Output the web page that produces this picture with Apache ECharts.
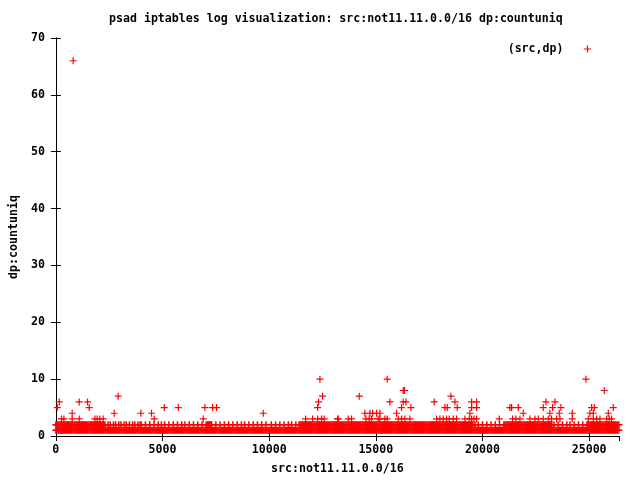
<!DOCTYPE html>
<html><head><meta charset="utf-8">
<script src="https://cdn.jsdelivr.net/npm/echarts@6/dist/echarts.min.js"></script>
<style>html,body{margin:0;padding:0;background:#fff}#c{width:640px;height:480px}</style>
</head><body><div id="c"></div>
<script>
const titleText = 'psad iptables log visualization: src:not11.11.0.0/16 dp:countuniq';
const xName = 'src:not11.11.0.0/16';
const yName = 'dp:countuniq';
const seriesName = '(src,dp)';
const xMax = 26400;
const yMax = 70;
const xTickStep = 5000;
const yTickStep = 10;
const binWidth = 50;
// Each string covers 1000 src indices, one char per 50-index bin.
// Every bin holds sources with count 1; '2' marks bins that also hold count-2 sources.
const band2Pattern = [
  '22222222222222222222', '22222222222222222222', '22222221121211212112',
  '12112121121121211212', '21112111211121112112', '11211121112111211121',
  '12111211121112111211', '12222221112111211121', '11211121112111211211',
  '12111211121112111211', '11211121112111211121', '12111211222222222222',
  '22222222222222222222', '22222222222222222222', '22222222222222222222',
  '22222222222222222222', '22222222222222222222', '22222222222222222222',
  '22222222222222222222', '22222222222212112111', '21112111211121112111',
  '22222222222222222222', '22222222222222222222', '22222212111211121112',
  '11211121112111211122', '22222222222222222222', '22222222'
];
// isolated higher counts
const outlierX = [
  810,
  266, 375, 766, 1094, 1829, 1938, 2063, 2220, 4611, 6909, 11707, 12035, 12270, 12457, 12582, 13207,
  13237, 13706, 13862, 14534, 14690, 14800, 15112, 15190, 15425, 15534, 16050, 16206, 16363, 16597,
  17848, 18004, 18160, 18316, 18441, 18629, 18785, 19176, 19379, 19489, 19598, 19723, 20786, 21411,
  21567, 21755, 22224, 22458, 22615, 22849, 23084, 23240, 23474, 23631, 24209, 24959, 25194, 25350,
  25506, 25819, 25944, 26053,
  766, 2735, 3986, 4486, 9722, 14487, 14722, 14847, 15034, 15190, 15972, 19411, 21911, 23162, 23599,
  24209, 25037, 25194, 25897,
  63, 1563, 5080, 5736, 6987, 7346, 7534, 12270, 16206, 16644, 18238, 18348, 18817, 19489, 19723,
  21286, 21364, 21677, 22849, 23287, 23677, 25116, 25241, 26132,
  157, 1094, 1485, 12317, 15659, 16285, 16410, 17738, 18707, 19489, 19723, 22974, 23396,
  2923, 12504, 14221, 18520,
  16285, 16345, 25709,
  12379, 15534, 24850,
  26400, 26400
];
const outlierY = [
  66,
  3, 3, 3, 3, 3, 3, 3, 3, 3, 3, 3, 3, 3, 3, 3, 3,
  3, 3, 3, 3, 3, 3, 3, 3, 3, 3, 3, 3, 3, 3,
  3, 3, 3, 3, 3, 3, 3, 3, 3, 3, 3, 3, 3, 3,
  3, 3, 3, 3, 3, 3, 3, 3, 3, 3, 3, 3, 3, 3,
  3, 3, 3, 3,
  4, 4, 4, 4, 4, 4, 4, 4, 4, 4, 4, 4, 4, 4, 4,
  4, 4, 4, 4,
  5, 5, 5, 5, 5, 5, 5, 5, 5, 5, 5, 5, 5, 5, 5,
  5, 5, 5, 5, 5, 5, 5, 5, 5,
  6, 6, 6, 6, 6, 6, 6, 6, 6, 6, 6, 6, 6,
  7, 7, 7, 7,
  8, 8, 8,
  10, 10, 10,
  1, 2
];

const crossBand = 'path://M2.75,0h1.5v2.75h2.75v1.5h-2.75v2.75h-1.5v-2.75h-2.75v-1.5h2.75z';
const crossThin = 'path://M2.9,0h1.2v2.9h2.9v1.2h-2.9v2.9h-1.2v-2.9h-2.9v-1.2h2.9z';

const points = [];
band2Pattern.join('').split('').forEach((c, i) => {
  const x = i * binWidth;
  points.push({ value: [x, 1], symbol: crossBand });
  if (c === '2') points.push({ value: [x, 2], symbol: crossBand });
});
outlierX.forEach((x, i) => points.push({ value: [x, outlierY[i]], symbol: crossThin }));

const font = 'DejaVu Sans Mono';
const txt = { fontFamily: font, fontWeight: 'bold', fontSize: 11.6, color: '#000' };
const axisLine = { show: true, lineStyle: { color: '#000', width: 1 } };
const tick = { show: true, inside: true, length: 5, lineStyle: { color: '#000' } };

const chart = echarts.init(document.getElementById('c'), null, { renderer: 'canvas' });
chart.setOption({
  animation: false,
  backgroundColor: '#fff',
  title: { text: titleText, left: 109, top: 13, padding: 0,
    textStyle: Object.assign({}, txt) },
  legend: { data: [{ name: seriesName, icon: crossThin }], right: 49, top: 43, padding: 0, align: 'right',
    itemWidth: 38, itemHeight: 7, itemGap: 0, textStyle: Object.assign({}, txt),
    selectedMode: false },
  grid: { left: 55, right: 21, top: 38, bottom: 40, containLabel: false },
  xAxis: [
    { type: 'value', min: 0, max: xMax, interval: xTickStep, position: 'bottom',
      name: xName, nameLocation: 'middle', nameGap: 27, nameTextStyle: Object.assign({}, txt),
      axisLine, axisTick: tick, splitLine: { show: false },
      axisLabel: Object.assign({ margin: 8, showMaxLabel: false, formatter: v => String(v) }, txt) },
    { type: 'value', min: 0, max: xMax, interval: xTickStep, position: 'top',
      axisLine, axisTick: tick, splitLine: { show: false }, axisLabel: { show: false } }
  ],
  yAxis: [
    { type: 'value', min: 0, max: yMax, interval: yTickStep, position: 'left',
      name: yName, nameLocation: 'middle', nameGap: 35, nameRotate: 90,
      nameTextStyle: Object.assign({}, txt),
      axisLine, axisTick: tick, splitLine: { show: false },
      axisLabel: Object.assign({ margin: 11, formatter: v => String(v) }, txt) },
    { type: 'value', min: 0, max: yMax, interval: yTickStep, position: 'right',
      axisLine, axisTick: tick, splitLine: { show: false }, axisLabel: { show: false } }
  ],
  series: [{
    name: seriesName, type: 'scatter', data: points, symbol: crossThin, symbolSize: 7,
    clip: false, large: false, itemStyle: { color: '#ff0000', opacity: 1 },
    emphasis: { disabled: true }
  }]
});
</script></body></html>
